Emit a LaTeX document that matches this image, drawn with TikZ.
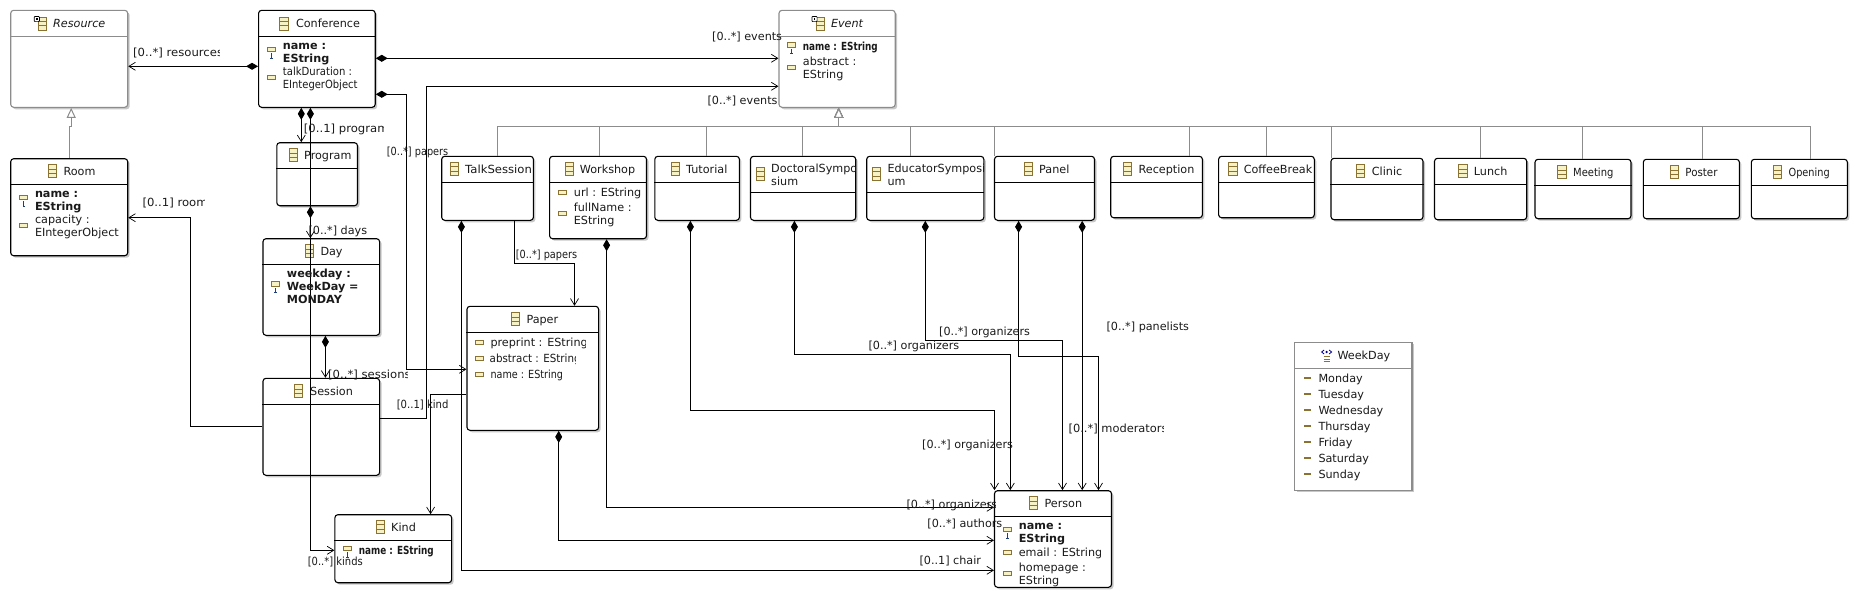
\documentclass[tikz,border=0pt]{standalone}
\usepackage{fontspec}
\usepackage{graphicx}
\setmainfont{DejaVu Sans}
\usetikzlibrary{arrows.meta,shadows}
\definecolor{iconfill}{HTML}{F7F2C6}
\definecolor{icondraw}{HTML}{8A7233}
\definecolor{genline}{HTML}{8C8C8C}
\definecolor{oneblue}{HTML}{1F3F80}
\definecolor{inktext}{HTML}{1A1A1A}
\tikzset{
  classbox/.style={draw=black,fill=white,line width=1.1pt,rounded corners=3pt,inner sep=0pt,
    drop shadow={shadow xshift=2pt,shadow yshift=-2pt,fill=black!22,opacity=1}},
  absbox/.style={classbox,draw=genline},
  enumbox/.style={classbox,draw=genline,rounded corners=0pt},
  txtst/.style={anchor=west,inner sep=0pt,text height=9pt,text depth=1pt,text=inktext,font=\fontsize{11.2}{13}\selectfont},
  ref/.style={line width=1.1pt,draw=black,-{Straight Barb[length=6.5pt,width=8pt,line width=.7pt]}},
  comp/.style={line width=1.1pt,draw=black,{Diamond[length=12pt,width=7pt]}-{Straight Barb[length=6.5pt,width=8pt,line width=.7pt]}},
  gen/.style={line width=1pt,draw=genline,-{Triangle[open,length=10pt,width=9pt,fill=white]}},
}
\newcount\tcnt
\newcommand\txt[4][1]{\global\advance\tcnt by 1\relax
  \node[txtst] (t\the\tcnt) at (#2,#3) {\scalebox{#1}[1]{#4}};}
\newcommand\txtc[5][1]{\begin{scope}\clip (#2-1,#3-11) rectangle (#4,#3+11);\txt[#1]{#2}{#3}{#5}\end{scope}}
\newcommand\clsbox[8][classbox]{%
  \node[#1,minimum width={(#5-#3)*1pt},minimum height={(#6-#4)*1pt}] (#2) at ({(#3+#5)/2},{(#4+#6)/2}) {};
  \draw[line width=1.1pt,draw=#8] (#2.west |- 0,#7) -- (#2.east |- 0,#7);}
\newcommand\clsicon[2]{%
  \draw[fill=iconfill,draw=icondraw,line width=.8pt] (#1-4.2,#2-6.5) rectangle (#1+4.2,#2+6.5);
  \draw[draw=icondraw,line width=.7pt] (#1-4.2,#2-2.2) -- (#1+4.2,#2-2.2) (#1-4.2,#2+2.2) -- (#1+4.2,#2+2.2);}
\newcommand\attricon[2]{\draw[fill=iconfill,draw=icondraw,line width=.8pt] (#1-4,#2-2.2) rectangle (#1+4,#2+2.2);}
\newcommand\attrone[2]{\attricon{#1}{#2}\fill[oneblue] (#1-.3,#2+4) rectangle (#1+.7,#2+9);\fill[oneblue] (#1-1.2,#2+8.4) rectangle (#1+1.6,#2+9.2);}
\newcommand\absmark[2]{\draw[fill=white,draw=black,line width=.7pt,rounded corners=.8pt] (#1-2.6,#2-2.6) rectangle (#1+2.6,#2+2.6);\fill[black] (#1-.8,#2-.8) rectangle (#1+.8,#2+.8);}
\newcommand\litdash[2]{\draw[icondraw,line width=1.7pt] (#1-3.5,#2) -- (#1+3.5,#2);}
\newcommand\enumicon[2]{%
  \draw[blue!55!black,line width=.8pt] (#1-2.5,#2-7) -- (#1-5,#2-5) -- (#1-2.5,#2-3) (#1+2.5,#2-7) -- (#1+5,#2-5) -- (#1+2.5,#2-3);
  \fill[blue!55!black] (#1,#2-5) circle (1.3pt);
  \draw[icondraw,line width=.9pt] (#1-3,#2-.5) -- (#1+3,#2-.5) (#1-3,#2+2) -- (#1+3,#2+2) (#1-3,#2+4.7) -- (#1+3,#2+4.7);}
\begin{document}
\begin{tikzpicture}[x=1pt,y=-1pt]
\useasboundingbox (0,0) rectangle (1859,600);
% class boxes
\clsbox[absbox]{resource}{10.7}{10.3}{127.7}{107.3}{36.3}{genline}
\clsbox{conf}{258.6}{10.3}{375.2}{107.3}{36.3}{black}
\clsbox{room}{10.7}{158.7}{127.7}{255.7}{184.3}{black}
\clsbox{program}{276.8}{142.7}{357.5}{205.7}{168.3}{black}
\clsbox{day}{263}{238.7}{379.6}{335.3}{264.3}{black}
\clsbox{session}{263}{378.3}{379.6}{475.3}{404.3}{black}
\clsbox{kind}{334.9}{514.7}{451.6}{582.7}{540.3}{black}
\clsbox{paper}{467}{306.3}{598.6}{430.3}{332.3}{black}
\clsbox{talk}{441.7}{156.3}{533.4}{220.3}{182.3}{black}
\clsbox{workshop}{549.6}{156.3}{646.5}{238.7}{182.3}{black}
\clsbox{tutorial}{654.8}{156.3}{739.4}{220.3}{182.3}{black}
\clsbox{doctoral}{750.5}{156.3}{855.7}{220.3}{192.3}{black}
\clsbox{educator}{866.7}{156.3}{983.8}{220.3}{192.3}{black}
\clsbox{panel}{994.5}{156.3}{1094.5}{220.3}{182.3}{black}
\clsbox{reception}{1110.7}{156.3}{1202.4}{217.7}{182.3}{black}
\clsbox{coffee}{1218.6}{156.3}{1314.3}{217.7}{182.3}{black}
\clsbox{clinic}{1331}{158.3}{1423}{219.7}{184.3}{black}
\clsbox{lunch}{1434.5}{158.3}{1526.7}{219.7}{184.3}{black}
\clsbox{meeting}{1535}{159.3}{1631}{218.7}{185.3}{black}
\clsbox{poster}{1643.3}{159.3}{1739.4}{218.7}{185.3}{black}
\clsbox{opening}{1751.3}{159.3}{1847.4}{218.7}{185.3}{black}
\clsbox[absbox]{event}{779}{10.3}{895.2}{107.3}{36.3}{genline}
\clsbox{person}{994.5}{490.7}{1111.5}{587.3}{516.3}{black}
\clsbox[enumbox]{weekday}{1294.6}{342.3}{1412}{490.3}{368.3}{genline}
% title icons
\clsicon{42.3}{23.5}\absmark{36.8}{19}
\clsicon{283.9}{23.5}
\clsicon{52.2}{171.3}
\clsicon{293.4}{155.3}
\clsicon{309.2}{251.3}
\clsicon{298.5}{391.3}
\clsicon{380.4}{527}
\clsicon{515.2}{319.3}
\clsicon{454.3}{169}
\clsicon{569.4}{169}
\clsicon{675.4}{169}
\clsicon{760.4}{174}
\clsicon{876.6}{174}
\clsicon{1028.5}{169}
\clsicon{1127.3}{169}
\clsicon{1233}{169}
\clsicon{1360.6}{171.3}
\clsicon{1463}{171.3}
\clsicon{1561.9}{172.3}
\clsicon{1674.2}{172.3}
\clsicon{1777.4}{172.3}
\clsicon{820.5}{23.5}\absmark{814.5}{19}
\clsicon{1033.2}{503.3}
\enumicon{1326.6}{357}
% attribute icons
\attrone{271.3}{49.3}\attricon{271.3}{77.3}
\attrone{23.7}{197.3}\attricon{23.7}{225.3}
\attrone{275.6}{283.7}
\attricon{562.3}{192.3}\attricon{562.3}{213.3}
\attrone{791.2}{44.7}\attricon{791.2}{67.3}
\attricon{479.2}{342.3}\attricon{479.2}{358.3}\attricon{479.2}{374.3}
\attrone{347.2}{548.3}
\attrone{1007.5}{529.3}\attricon{1007.5}{552.3}\attricon{1007.5}{573.3}
\litdash{1307.6}{378}\litdash{1307.6}{394}\litdash{1307.6}{410}\litdash{1307.6}{426}\litdash{1307.6}{442}\litdash{1307.6}{458}\litdash{1307.6}{474}
% generalizations
\draw[gen] (room.north -| 69.6,0) -- (69.6,126) -- (71.2,126) -- (resource.south -| 71.2,0);
\foreach \cn/\cx in {talk/497.4,workshop/599.4,tutorial/706.2,doctoral/802.3,educator/910.2,panel/994.5,reception/1189.4,coffee/1266.5,clinic/1331,lunch/1480.8,meeting/1582.8,poster/1702.2,opening/1810.2}{
  \draw[gen] (\cn.north -| \cx,0) -- (\cx,126.3) -- (838.7,126.3) -- (event.south -| 838.7,0);
}
% references
\draw[comp] (conf.west |- 0,66.3) -- (resource.east |- 0,66.3);
\draw[comp] (conf.east |- 0,58.3) -- (event.west |- 0,58.3);
\draw[ref] (session.east |- 0,418.3) -- (426.6,418.3) -- (426.6,86.3) -- (event.west |- 0,86.3);
\draw[comp] (conf.east |- 0,94.3) -- (406.5,94.3) -- (406.5,369.3) -- (paper.west |- 0,369.3);
\draw[comp] (conf.south -| 301.3,0) -- (program.north -| 301.3,0);
\draw[comp] (conf.south -| 310.4,0) -- (310.4,550.3) -- (kind.west |- 0,550.3);
\draw[comp] (program.south -| 310.4,0) -- (day.north -| 310.4,0);
\draw[comp] (day.south -| 325.4,0) -- (session.north -| 325.4,0);
\draw[ref] (session.west |- 0,426.3) -- (190.6,426.3) -- (190.6,217.7) -- (room.east |- 0,217.7);
\draw[ref] (paper.west |- 0,394.3) -- (430.6,394.3) -- (kind.north -| 430.6,0);
\draw[ref] (talk.south -| 514.4,0) -- (514.4,263.3) -- (574.5,263.3) -- (paper.north -| 574.5,0);
\draw[comp] (talk.south -| 461.4,0) -- (461.4,570.3) -- (person.west |- 0,570.3);
\draw[comp] (workshop.south -| 606.6,0) -- (606.6,507.3) -- (person.west |- 0,507.3);
\draw[comp] (paper.south -| 558.7,0) -- (558.7,540.3) -- (person.west |- 0,540.3);
\draw[comp] (tutorial.south -| 690.4,0) -- (690.4,410.3) -- (994.5,410.3) -- (person.north -| 994.5,0);
\draw[comp] (doctoral.south -| 794.4,0) -- (794.4,354.3) -- (1010.3,354.3) -- (person.north -| 1010.3,0);
\draw[comp] (educator.south -| 925.3,0) -- (925.3,340.3) -- (1062.5,340.3) -- (person.north -| 1062.5,0);
\draw[comp] (panel.south -| 1082.2,0) -- (person.north -| 1082.2,0);
\draw[comp] (panel.south -| 1018.6,0) -- (1018.6,356.3) -- (1098.5,356.3) -- (person.north -| 1098.5,0);
% titles
\txt{53}{23}{\itshape Resource}
\txt{295.8}{23}{Conference}
\txt{63.3}{171.3}{Room}
\txt{304}{155.3}{Program}
\txt{320.3}{251.3}{Day}
\txt{310}{391.3}{Session}
\txt{391}{527}{Kind}
\txt{526.3}{319.3}{Paper}
\txtc[1.04]{465}{169}{532.5}{TalkSession}
\txt{579.7}{169}{Workshop}
\txt{686}{169}{Tutorial}
\txtc{771}{168}{855}{DoctoralSymposium}
\txt{771}{181.3}{sium}
\txtc{887.3}{168}{983}{EducatorSymposium}
\txt{887.3}{181.3}{um}
\txt{1039}{169}{Panel}
\txt{1138.4}{169}{Reception}
\txtc{1243.6}{169}{1313.5}{CoffeeBreak}
\txt{1371.7}{171.3}{Clinic}
\txt{1473.7}{171.3}{Lunch}
\txt[.89]{1573}{172.3}{Meeting}
\txt[.92]{1685.2}{172.3}{Poster}
\txt[.87]{1788.4}{172.3}{Opening}
\txt{830.8}{23}{\itshape Event}
\txt{1044.3}{503.3}{Person}
\txt{1337.3}{355.3}{WeekDay}
% attributes
\txt{282.7}{45.3}{\bfseries name :}
\txt{282.7}{58.3}{\bfseries EString}
\txt[.9]{282.7}{71.3}{talkDuration :}
\txt[.89]{282.7}{84}{EIntegerObject}
\txt{34.8}{193.3}{\bfseries name :}
\txt{34.8}{206.3}{\bfseries EString}
\txt{34.8}{219.3}{capacity :}
\txt{34.8}{232}{EIntegerObject}
\txt{286.7}{273.3}{\bfseries weekday :}
\txt{286.7}{286}{\bfseries WeekDay =}
\txt{286.7}{299}{\bfseries MONDAY}
\txtc{573.7}{192.3}{645}{url : EString}
\txt{573.7}{207}{fullName :}
\txt{573.7}{220.3}{EString}
\txt[.79]{802.7}{46.3}{\bfseries name : EString}
\txt{802.7}{61.3}{abstract :}
\txt{802.7}{74.3}{EString}
\txtc{490.3}{342.3}{585.2}{preprint : EString}
\txtc[.92]{489.5}{358.3}{575.3}{abstract : EString}
\txt[.86]{490.3}{374.3}{name : EString}
\txt[.79]{358.6}{550.3}{\bfseries name : EString}
\txt{1018.6}{525.3}{\bfseries name :}
\txt{1018.6}{538.3}{\bfseries EString}
\txtc{1018.6}{552.3}{1100.4}{email : EString}
\txt{1018.6}{567.3}{homepage :}
\txt{1018.6}{580.3}{EString}
\txt{1318.3}{378}{Monday}
\txt{1318.3}{394}{Tuesday}
\txt{1318.3}{410}{Wednesday}
\txt{1318.3}{426}{Thursday}
\txt{1318.3}{442}{Friday}
\txt{1318.3}{458}{Saturday}
\txt{1318.3}{474}{Sunday}
% connector labels
\txtc[1.04]{133}{52.3}{219.5}{[0..*] resources}
\txt{712}{36}{[0..*] events}
\txt{707.4}{100}{[0..*] events}
\txt[.87]{386.7}{151.7}{[0..*] papers}
\txtc[1.04]{303.7}{128.3}{383.5}{[0..1] program}
\txt[.89]{307.6}{561.3}{[0..*] kinds}
\txt{308.4}{230.3}{[0..*] days}
\txtc[1.04]{328}{374}{407.3}{[0..*] sessions}
\txtc[1.04]{142.3}{202.3}{204}{[0..1] room}
\txt[.9]{396.6}{404.3}{[0..1] kind}
\txt[.87]{515.6}{254.3}{[0..*] papers}
\txt{919.3}{560.3}{[0..1] chair}
\txtc{906.3}{504}{995.6}{[0..*] organizers}
\txtc{927.2}{523.3}{1002}{[0..*] authors}
\txtc{922}{444.3}{1012}{[0..*] organizers}
\txtc{868.3}{345.3}{958.5}{[0..*] organizers}
\txtc{939}{331.3}{1029}{[0..*] organizers}
\txtc[1.02]{1068.4}{428.3}{1163}{[0..*] moderators}
\txtc{1106.4}{326.3}{1188}{[0..*] panelists}
\end{tikzpicture}
\end{document}
